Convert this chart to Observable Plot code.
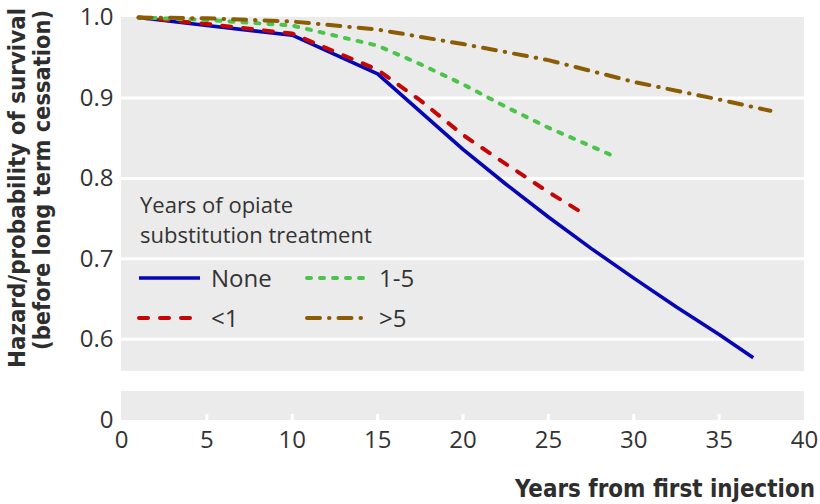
<!DOCTYPE html>
<html><head><meta charset="utf-8">
<script src="https://cdn.jsdelivr.net/npm/d3@7"></script>
<script src="https://cdn.jsdelivr.net/npm/@observablehq/plot@0.6"></script>
<style>
body{margin:0;background:#fff}
#chart{position:relative;width:820px;height:504px}
</style>
</head><body><div id="chart"></div>
<script>
// ---- data ----
const seriesNames = ["None", "<1", "1-5", ">5"];
const noneYears   = [1, 5, 10, 15, 17.5, 20, 22.5, 25, 27.5, 30, 32.5, 35, 37];
const noneValues  = [1.0, 0.990, 0.978, 0.930, 0.883, 0.836, 0.793, 0.752, 0.713, 0.676, 0.640, 0.606, 0.577];
const lt1Years    = [1, 5, 10, 15, 17.5, 20, 22.5, 25, 27];
const lt1Values   = [1.0, 0.992, 0.980, 0.935, 0.897, 0.854, 0.818, 0.783, 0.757];
const y15Years    = [1, 5, 10, 15, 17.5, 20, 22.5, 25, 27.5, 29];
const y15Values   = [1.0, 0.997, 0.990, 0.965, 0.942, 0.917, 0.889, 0.863, 0.840, 0.826];
const gt5Years    = [1, 5, 10, 15, 20, 25, 30, 35, 38];
const gt5Values   = [1.0, 0.999, 0.995, 0.985, 0.967, 0.947, 0.920, 0.898, 0.884];
const xTicks      = [0, 5, 10, 15, 20, 25, 30, 35, 40];
const xTickMarks  = [5, 10, 15, 20, 25, 30, 35];
const yTicks      = [0, 0.6, 0.7, 0.8, 0.9, 1.0];
const yGrid       = [0.6, 0.7, 0.8, 0.9];
// broken y axis: lower stub (0 .. 0.036) and upper panel (0.56 .. 1.0), with a gap between
const yBreakDomain = [0, 0.036, 0.56, 1.0];
const yBreakSpan   = [0, 0.036, 0.061, 0.501];
const panels = [{lo: 0, hi: 0.036}, {lo: 0.56, hi: 1.0}];
const legendTitle = ["Years of opiate", "substitution treatment"];
const xTitle = "Years from first injection";
const yTitle = ["Hazard/probability of survival", "(before long term cessation)"];

// ---- styles ----
const styles = {
  "None": {stroke: "#0606b4", strokeWidth: 3.6, dash: null},
  "<1":   {stroke: "#c40606", strokeWidth: 4, dash: "9,12"},
  "1-5":  {stroke: "#4cc34c", strokeWidth: 4, dash: "4,9"},
  ">5":   {stroke: "#8a5c04", strokeWidth: 4, dash: "13,9,0.5,9"}
};
const brk = d3.scaleLinear().domain(yBreakDomain).range(yBreakSpan);
const toRows = (xs, ys) => xs.map((x, i) => ({year: x, value: ys[i]}));
const seriesData = {
  "None": toRows(noneYears, noneValues),
  "<1": toRows(lt1Years, lt1Values),
  "1-5": toRows(y15Years, y15Values),
  ">5": toRows(gt5Years, gt5Values)
};

const lineMarks = seriesNames.map(name => Plot.line(seriesData[name], {
  x: "year", y: d => brk(d.value),
  stroke: styles[name].stroke, strokeWidth: styles[name].strokeWidth,
  strokeDasharray: styles[name].dash || undefined,
  strokeLinecap: styles[name].dash ? "round" : "butt", strokeLinejoin: "round"
}));

const tickLabel = new Map(yTicks.map(v => [brk(v), v === 0 ? "0" : v.toFixed(1)]));

const chart = Plot.plot({
  width: 820, height: 504,
  marginLeft: 121, marginRight: 16, marginTop: 17, marginBottom: 84,
  style: {fontFamily: "'Open Sans', sans-serif", fontSize: "24px", color: "#333", background: "#fff"},
  x: {domain: [0, 40], ticks: xTicks, tickSize: 0, tickPadding: 10, label: null},
  y: {domain: [yBreakSpan[0], yBreakSpan[3]], ticks: yTicks.map(brk),
      tickFormat: d => tickLabel.get(d), tickSize: 0, tickPadding: 8, label: null},
  marks: [
    Plot.rect(panels, {x1: 0, x2: 40, y1: d => brk(d.lo), y2: d => brk(d.hi), fill: "#ebebeb"}),
    Plot.ruleY(yGrid.map(brk), {x1: 0, x2: 40, stroke: "#fff", strokeWidth: 3}),
    Plot.ruleX(xTickMarks, {y1: 0, y2: 0.0075, stroke: "#fff", strokeWidth: 3}),
    ...lineMarks
  ]
});
document.getElementById("chart").appendChild(chart);

// ---- titles and legend ----
const svg = d3.select(chart);
const boldFont = "'Liberation Sans Narrow', 'DejaVu Sans Condensed', 'DejaVu Sans', sans-serif";
svg.append("text")
  .attr("x", 815).attr("y", 497).attr("text-anchor", "end")
  .attr("font-family", boldFont).attr("font-weight", "bold").attr("font-size", 24)
  .attr("fill", "#2e2e2e").attr("textLength", 300).attr("lengthAdjust", "spacingAndGlyphs")
  .text(xTitle);
const yt = [{x: 25, cy: 188, len: 360}, {x: 50, cy: 180, len: 340}];
yTitle.forEach((t, i) => {
  svg.append("text")
    .attr("transform", `translate(${yt[i].x},${yt[i].cy}) rotate(-90)`)
    .attr("text-anchor", "middle")
    .attr("font-family", boldFont).attr("font-weight", "bold").attr("font-size", 23)
    .attr("fill", "#2e2e2e").attr("textLength", yt[i].len).attr("lengthAdjust", "spacingAndGlyphs")
    .text(t);
});
const lg = svg.append("g").attr("font-family", "'Open Sans', sans-serif").attr("font-size", 24)
  .attr("fill", "#333").attr("text-anchor", "start");
legendTitle.forEach((t, i) => lg.append("text").attr("x", 140).attr("y", 213 + i * 30)
  .attr("font-size", 22).text(t));
const legendPos = {"None": [139, 278], "1-5": [307, 278], "<1": [139, 318], ">5": [307, 318]};
seriesNames.forEach(name => {
  const [lx, ly] = legendPos[name];
  const s = styles[name];
  lg.append("line").attr("x1", lx).attr("x2", lx + 61).attr("y1", ly).attr("y2", ly)
    .attr("stroke", s.stroke).attr("stroke-width", s.strokeWidth)
    .attr("stroke-dasharray", s.dash).attr("stroke-linecap", s.dash ? "round" : "butt");
  lg.append("text").attr("x", lx + 72).attr("y", ly).attr("dy", "0.36em").text(name);
});
</script>
</body></html>
